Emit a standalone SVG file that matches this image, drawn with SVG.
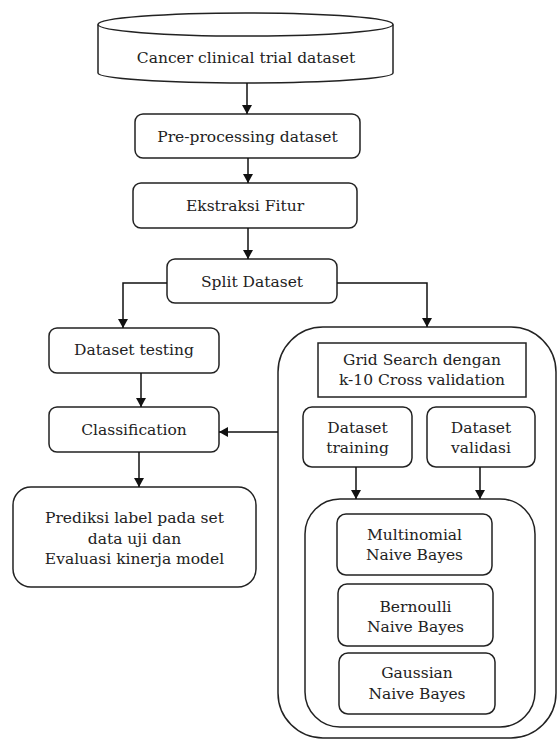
<svg xmlns="http://www.w3.org/2000/svg" width="558" height="740" viewBox="0 0 558 740">
<style>
.box{fill:#fff;stroke:#222;stroke-width:1.5}
.con{fill:none;stroke:#111;stroke-width:1.5}
text{font-family:"DejaVu Serif","Liberation Serif",serif;font-size:15.5px;fill:#222;text-anchor:middle}
</style>
<defs>
<marker id="ah" markerUnits="userSpaceOnUse" markerWidth="10" markerHeight="10" refX="9" refY="5" orient="auto">
<path d="M0,0 L9,5 L0,10 z" fill="#111"/>
</marker>
</defs>
<rect width="558" height="740" fill="#fff"/>
<g id="n-outer"><rect class="box" x="278" y="327" width="278" height="411" rx="45"/></g>
<g id="n-cancer">
<path class="box" d="M98,24.5 L98,73 A147.5,10 0 0 0 393,73 L393,24.5"/>
<ellipse class="box" cx="245.5" cy="24.5" rx="147.5" ry="11.5"/>
<text x="246" y="63">Cancer clinical trial dataset</text>
</g>
<g id="n-pre"><rect class="box" x="135" y="114" width="225" height="44" rx="8"/><text x="247.5" y="142">Pre-processing dataset</text></g>
<g id="n-ekstraksi"><rect class="box" x="133" y="183" width="224" height="45" rx="8"/><text x="245" y="211">Ekstraksi Fitur</text></g>
<g id="n-split"><rect class="box" x="167" y="259" width="170" height="44" rx="8"/><text x="252" y="287">Split Dataset</text></g>
<g id="n-testing"><rect class="box" x="49" y="328" width="170" height="45" rx="8"/><text x="134" y="355">Dataset testing</text></g>
<g id="n-class"><rect class="box" x="49" y="407" width="170" height="45" rx="8"/><text x="134" y="435">Classification</text></g>
<g id="n-prediksi"><rect class="box" x="13" y="487" width="243" height="100" rx="18"/>
<text x="134.5" y="523">Prediksi label pada set</text>
<text x="134.5" y="544">data uji dan</text>
<text x="134.5" y="564">Evaluasi kinerja model</text></g>
<g id="n-grid"><rect class="box" x="318" y="343" width="208" height="54"/>
<text x="422" y="365">Grid Search dengan</text>
<text x="422" y="385">k-10 Cross validation</text></g>
<g id="n-training"><rect class="box" x="303" y="407" width="109" height="60" rx="9"/>
<text x="357.5" y="433">Dataset</text><text x="357.5" y="453">training</text></g>
<g id="n-validasi"><rect class="box" x="427" y="407" width="108" height="60" rx="9"/>
<text x="481" y="433">Dataset</text><text x="481" y="453">validasi</text></g>
<g id="n-inner"><rect class="box" x="305" y="499" width="230" height="228" rx="35"/></g>
<g id="n-multi"><rect class="box" x="337" y="514" width="155" height="61" rx="9"/>
<text x="414.5" y="540">Multinomial</text><text x="414.5" y="560">Naive Bayes</text></g>
<g id="n-bern"><rect class="box" x="338" y="584" width="155" height="62" rx="9"/>
<text x="415.5" y="612">Bernoulli</text><text x="415.5" y="632">Naive Bayes</text></g>
<g id="n-gauss"><rect class="box" x="339" y="653" width="156" height="61" rx="9"/>
<text x="417" y="678">Gaussian</text><text x="417" y="699">Naive Bayes</text></g>
<g id="connectors">
<path class="con" d="M247,83 L247,114" marker-end="url(#ah)"/>
<path class="con" d="M248,158 L248,183" marker-end="url(#ah)"/>
<path class="con" d="M248,228 L248,259" marker-end="url(#ah)"/>
<path class="con" d="M167,283 L123,283 L123,328" marker-end="url(#ah)"/>
<path class="con" d="M337,283 L427,283 L427,327" marker-end="url(#ah)"/>
<path class="con" d="M141,373 L141,407" marker-end="url(#ah)"/>
<path class="con" d="M139,452 L139,487" marker-end="url(#ah)"/>
<path class="con" d="M278,432 L219,432" marker-end="url(#ah)"/>
<path class="con" d="M356,467 L356,499" marker-end="url(#ah)"/>
<path class="con" d="M480,467 L480,499" marker-end="url(#ah)"/>
</g>
</svg>
